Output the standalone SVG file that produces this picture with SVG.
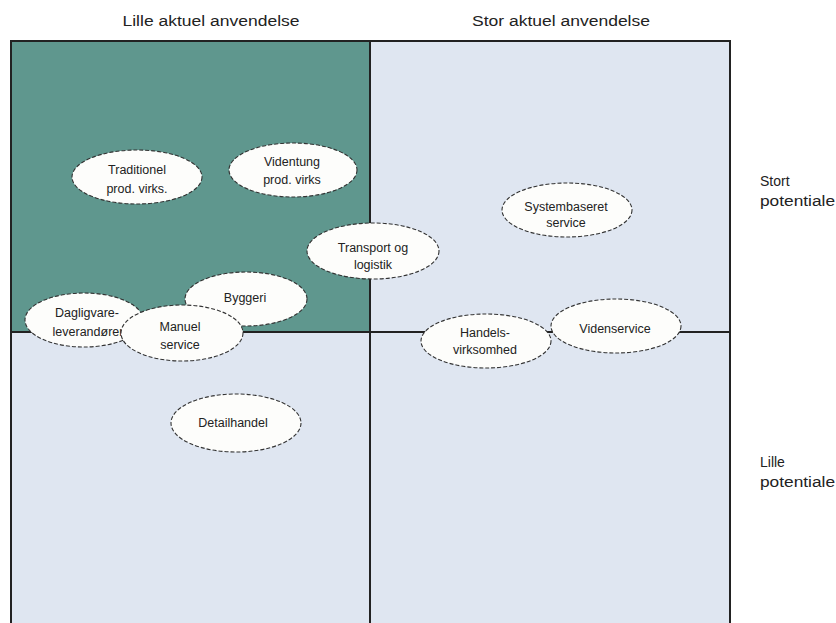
<svg xmlns="http://www.w3.org/2000/svg" width="836" height="623" viewBox="0 0 836 623">
  <style>
    .hdr { font-family: "Liberation Sans", Arial, sans-serif; font-size: 14px; fill: #222; text-anchor: middle; }
    .side { font-family: "Liberation Sans", Arial, sans-serif; font-size: 14px; fill: #222; }
    .node ellipse { fill: #fdfdfb; stroke: #333; stroke-width: 1.1; stroke-dasharray: 4 2; }
    .node text { font-family: "Liberation Sans", Arial, sans-serif; font-size: 12.5px; fill: #222; text-anchor: middle; }
    .grid line, .grid rect { stroke: #222; stroke-width: 2; }
  </style>
  <rect x="0" y="0" width="836" height="623" fill="#ffffff"/>

  <!-- headers -->
  <text class="hdr" x="211" y="26" textLength="177" lengthAdjust="spacingAndGlyphs">Lille aktuel anvendelse</text>
  <text class="hdr" x="561" y="26" textLength="178" lengthAdjust="spacingAndGlyphs">Stor aktuel anvendelse</text>
  <text class="side" x="760" y="186">Stort</text>
  <text class="side" x="760" y="206" textLength="75" lengthAdjust="spacingAndGlyphs">potentiale</text>
  <text class="side" x="760" y="467">Lille</text>
  <text class="side" x="760" y="487" textLength="75" lengthAdjust="spacingAndGlyphs">potentiale</text>

  <!-- quadrants -->
  <g class="grid" id="grid">
    <rect x="11" y="41" width="359" height="291" fill="#5f978e" stroke="none"/>
    <rect x="370" y="41" width="360" height="291" fill="#dfe6f1" stroke="none"/>
    <rect x="11" y="332" width="359" height="300" fill="#dfe6f1" stroke="none"/>
    <rect x="370" y="332" width="360" height="300" fill="#dfe6f1" stroke="none"/>
    <rect x="11" y="41" width="719" height="600" fill="none"/>
    <line x1="370" y1="41" x2="370" y2="630"/>
    <line x1="11" y1="332" x2="730" y2="332"/>
  </g>

  <g class="node" id="traditionel">
    <ellipse cx="137" cy="177" rx="65" ry="27"/>
    <text x="137" y="174">Traditionel</text>
    <text x="137" y="193">prod. virks.</text>
  </g>
  <g class="node" id="videntung">
    <ellipse cx="293" cy="170" rx="64" ry="27"/>
    <text x="292" y="166">Videntung</text>
    <text x="292" y="184">prod. virks</text>
  </g>
  <g class="node" id="transport">
    <ellipse cx="373" cy="251" rx="66" ry="28"/>
    <text x="373" y="252">Transport og</text>
    <text x="373" y="269">logistik</text>
  </g>
  <g class="node" id="systembaseret">
    <ellipse cx="567" cy="210" rx="65" ry="27"/>
    <text x="566" y="211">Systembaseret</text>
    <text x="566" y="227">service</text>
  </g>
  <g class="node" id="dagligvare">
    <ellipse cx="84" cy="320" rx="59" ry="27"/>
    <text x="87" y="317">Dagligvare-</text>
    <text x="88" y="336">leverandører</text>
  </g>
  <g class="node" id="byggeri">
    <ellipse cx="246" cy="299" rx="61" ry="27"/>
    <text x="245" y="302">Byggeri</text>
  </g>
  <g class="node" id="manuel">
    <ellipse cx="182" cy="333" rx="61" ry="28"/>
    <text x="180" y="331">Manuel</text>
    <text x="180" y="349">service</text>
  </g>
  <g class="node" id="handels">
    <ellipse cx="486" cy="341" rx="65" ry="27"/>
    <text x="485" y="337">Handels-</text>
    <text x="485" y="354">virksomhed</text>
  </g>
  <g class="node" id="videnservice">
    <ellipse cx="616" cy="326" rx="65" ry="27"/>
    <text x="615" y="333">Videnservice</text>
  </g>
  <g class="node" id="detailhandel">
    <ellipse cx="236" cy="423" rx="65" ry="29"/>
    <text x="233" y="427">Detailhandel</text>
  </g>
</svg>
